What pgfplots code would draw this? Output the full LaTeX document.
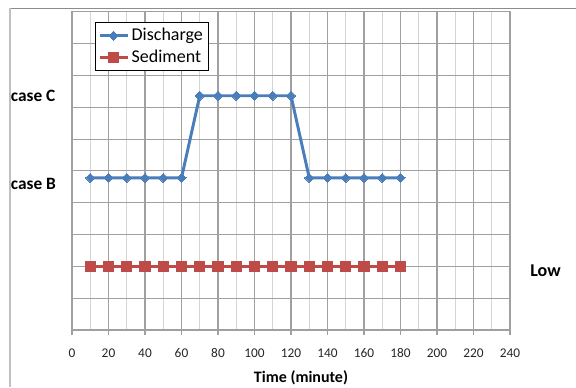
\documentclass[border=0pt]{standalone}
\usepackage{fontspec}
\setmainfont{Carlito}
\usepackage{pgfplots}
\pgfplotsset{compat=1.18}
\definecolor{dblue}{HTML}{4A7EBB}
\definecolor{sred}{HTML}{BE4B48}
\definecolor{majg}{HTML}{A0A0A0}
\definecolor{ming}{HTML}{D4D4D4}
\begin{document}
\begin{tikzpicture}
\useasboundingbox (0,0) rectangle (432pt,290.25pt);
% outer chart frame (partially visible)
\draw[color={rgb,255:red,140;green,140;blue,140}, line width=1pt] (7.5pt,284pt) -- (432pt,284pt);
\draw[color={rgb,255:red,192;green,192;blue,192}, line width=1.2pt] (7.5pt,284pt) -- (7.5pt,0pt);
\begin{axis}[
  scale only axis,
  at={(54pt,42.75pt)}, anchor=south west,
  width=328.5pt, height=238.7pt,
  xmin=0, xmax=240, ymin=0, ymax=10,
  xtick={0,20,...,240},
  minor xtick={10,30,...,230},
  ytick={0,1,...,10},
  yticklabels={},
  ytick style={draw=none},
  xtick pos=bottom,
  axis line style={color=majg, line width=0.8pt},
  xtick align=outside,
  major tick length=3.75pt,
  minor tick length=0pt,
  xtick style={color=majg, line width=0.8pt},
  grid=both,
  major grid style={color=majg, line width=0.8pt},
  minor grid style={color=ming, line width=0.8pt},
  /pgf/number format/assume math mode=true,
  xticklabel style={font=\fontsize{10}{11}\selectfont, text=black!85, yshift=-6.5pt,
    text height=7pt, text depth=0pt},
  xlabel={\textbf{Time (minute)}},
  xlabel style={font=\fontsize{12}{14}\selectfont, yshift=-3pt, xshift=7.5pt},
  legend style={at={(0.0525,0.9676)}, anchor=north west, draw=black, line width=0.6pt,
    font=\fontsize{13.5}{15}\selectfont, inner xsep=2pt, inner ysep=2.5pt, row sep=1.5pt,
    cells={anchor=west}},
  legend image code/.code={\draw[mark repeat=2,mark phase=2,#1] plot coordinates {(0pt,0pt) (10.5pt,0pt) (21pt,0pt)};},
]
\addplot[color=dblue, line width=2.2pt, mark=square*, mark size=2.4pt, mark options={rotate=45, fill=dblue, draw=dblue, line width=0pt}]
coordinates {(10,4.78) (20,4.78) (30,4.78) (40,4.78) (50,4.78) (60,4.78)
 (70,7.36) (80,7.36) (90,7.36) (100,7.36) (110,7.36) (120,7.36)
 (130,4.78) (140,4.78) (150,4.78) (160,4.78) (170,4.78) (180,4.78)};
\addlegendentry{Discharge}
\addplot[color=sred, line width=2pt, mark=square*, mark size=3.8pt, mark options={fill=sred, draw=sred, line width=0pt}]
coordinates {(10,2) (20,2) (30,2) (40,2) (50,2) (60,2) (70,2) (80,2) (90,2) (100,2) (110,2) (120,2)
 (130,2) (140,2) (150,2) (160,2) (170,2) (180,2)};
\addlegendentry{Sediment}
\end{axis}
\node[anchor=base west, inner sep=0pt, font=\fontsize{13}{15}\selectfont\bfseries] at (8pt,214pt) {case C};
\node[anchor=base west, inner sep=0pt, font=\fontsize{13}{15}\selectfont\bfseries] at (8pt,148pt) {case B};
\node[anchor=base west, inner sep=0pt, font=\fontsize{13.5}{15}\selectfont\bfseries] at (397.5pt,82.7pt) {Low};
\end{tikzpicture}
\end{document}
